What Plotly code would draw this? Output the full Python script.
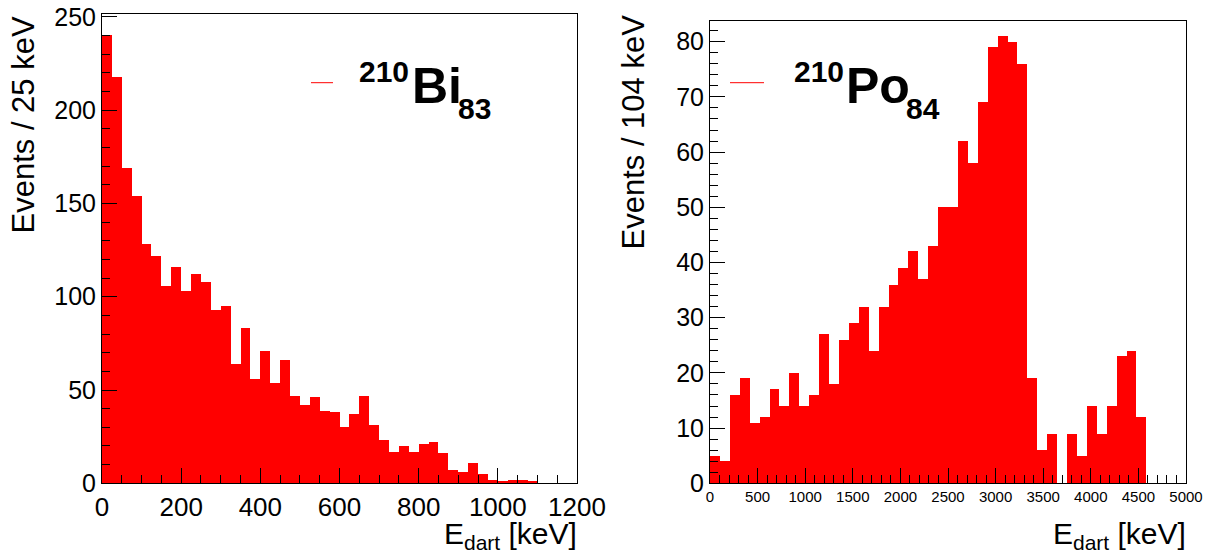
import numpy as np
import plotly.graph_objects as go

W, H = 1214, 559

# 210Bi spectrum: counts per 25 keV bin starting at 0 keV
bi_bin_width = 25.0
bi_counts = [240, 218, 169, 154, 128, 122, 106, 116, 103, 112,
             108, 93, 95, 64, 83, 56, 71, 54, 66, 47,
             42, 46, 39, 38, 30, 37, 47, 31, 23, 17,
             20, 17, 21, 22, 16, 7, 6, 11, 5, 2,
             1, 2, 2, 1]

# 210Po spectrum: 48 bins over 0-5000 keV (~104 keV each)
po_x_max = 5000.0
po_nbins = 48
po_counts = [5, 4, 16, 19, 11, 12, 17, 14, 20, 14,
             16, 27, 18, 26, 29, 32, 24, 32, 36, 39,
             42, 37, 43, 50, 50, 62, 58, 69, 79, 81,
             80, 76, 19, 6, 9, 0, 9, 5, 14, 9,
             14, 23, 24, 12, 0, 0, 0, 0]

bi_xrange = [0, 1200]
bi_yrange = [0, 251.5]
po_xrange = [0, 5000]
po_yrange = [0, 83.75]

bi_ytitle = "Events / 25 keV"
po_ytitle = "Events / 104 keV"
xtitle = "E<sub>dart</sub> [keV]"

FONT = "Liberation Sans, Arial, Helvetica, sans-serif"
RED = "#ff0000"


def px(x):
    return x / W


def py(y):
    return 1 - y / H


bi_centers = (np.arange(len(bi_counts)) + 0.5) * bi_bin_width
po_width = po_x_max / po_nbins
po_centers = (np.arange(po_nbins) + 0.5) * po_width

fig = go.Figure()
fig.add_trace(go.Bar(x=bi_centers, y=bi_counts, width=bi_bin_width,
                     marker=dict(color=RED, line=dict(width=0)),
                     xaxis="x", yaxis="y", hoverinfo="skip"))
fig.add_trace(go.Bar(x=po_centers, y=po_counts, width=po_width,
                     marker=dict(color=RED, line=dict(width=0)),
                     xaxis="x2", yaxis="y2", hoverinfo="skip"))


def axis(domain, rng, dtick, minor_dtick, font_size, anchor):
    return dict(
        domain=domain, range=rng, anchor=anchor, automargin=False,
        dtick=dtick, tick0=0,
        showline=True, linecolor="black", linewidth=1, mirror=True,
        ticks="inside", ticklen=15, tickwidth=1, tickcolor="black",
        minor=dict(ticks="inside", dtick=minor_dtick, ticklen=8,
                   tickwidth=1, tickcolor="black", showgrid=False),
        showgrid=False, zeroline=False,
        tickfont=dict(family=FONT, size=font_size, color="black"),
        layer="above traces", fixedrange=True,
    )


fig.update_layout(
    width=W, height=H,
    margin=dict(l=0, r=0, t=0, b=0, pad=0, autoexpand=False),
    paper_bgcolor="white", plot_bgcolor="white",
    showlegend=False, bargap=0, barmode="overlay",
    xaxis=axis([px(102), px(577)], bi_xrange, 200, 50, 26, "y"),
    yaxis=axis([py(483.3), py(14)], bi_yrange, 50, 10, 25, "x"),
    xaxis2=axis([px(710), px(1186)], po_xrange, 500, 100, 15, "y2"),
    yaxis2=axis([py(483.3), py(21)], po_yrange, 10, 2, 25, "x2"),
)

annotations = []


def text(x, y, s, size, xanchor="left", yanchor="middle", angle=0, bold=False):
    annotations.append(dict(
        x=px(x), y=py(y), xref="paper", yref="paper",
        text=f"<b>{s}</b>" if bold else s, showarrow=False,
        xanchor=xanchor, yanchor=yanchor, textangle=angle,
        font=dict(family=FONT, size=size, color="black"),
    ))


# axis titles, aligned to the end of each axis
text(22.5, 125, bi_ytitle, 31, xanchor="center", angle=-90)
text(632.5, 132, po_ytitle, 31, xanchor="center", angle=-90)
text(579, 515, xtitle, 30, xanchor="right", yanchor="top")
text(1188, 515, xtitle, 30, xanchor="right", yanchor="top")

# legend labels: mass number, element symbol, atomic number
text(357, 71, "210", 30, bold=True)
text(409.5, 86.5, "Bi", 50, bold=True)
text(456, 108.5, "83", 30, bold=True)

text(792, 71, "210", 30, bold=True)
text(843.5, 86.5, "Po", 50, bold=True)
text(904, 108.5, "84", 30, bold=True)

fig.update_layout(annotations=annotations)

# legend line samples
for x0, x1 in [(311, 333), (730, 764)]:
    fig.add_shape(type="line", xref="paper", yref="paper",
                  x0=px(x0), x1=px(x1), y0=py(82.7), y1=py(82.7),
                  line=dict(color=RED, width=1))

fig.write_html("out.html")
